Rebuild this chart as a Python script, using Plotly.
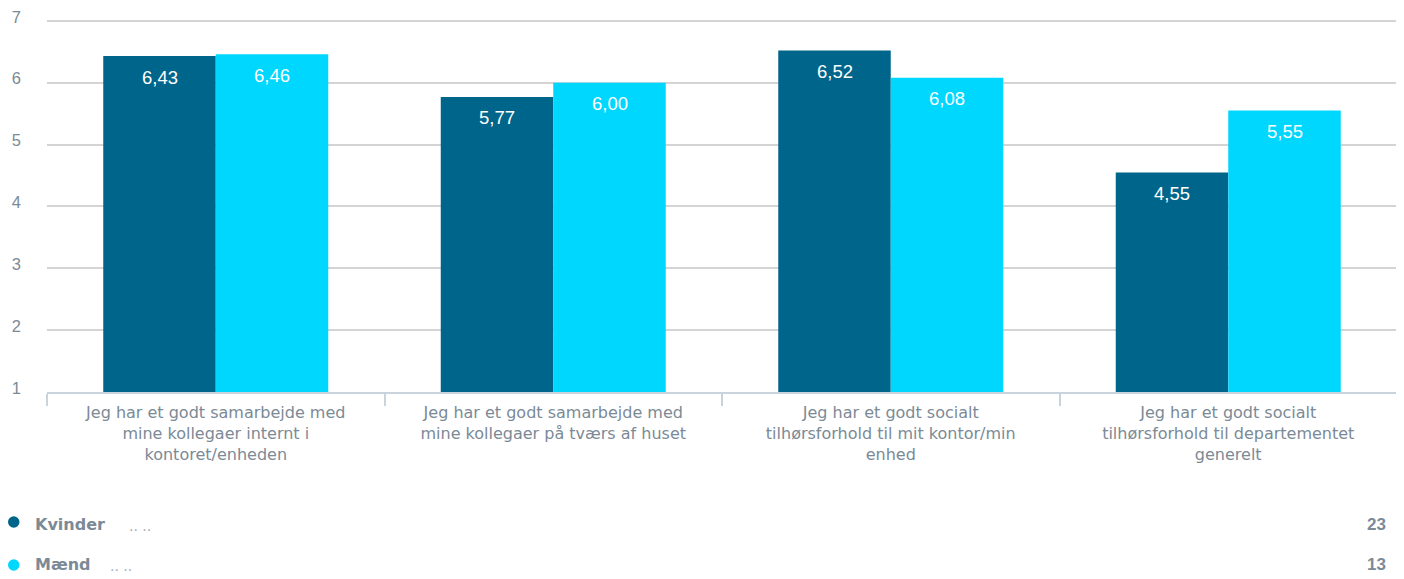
import plotly.graph_objects as go

categories = [
    "Jeg har et godt samarbejde med<br>mine kollegaer internt i<br>kontoret/enheden",
    "Jeg har et godt samarbejde med<br>mine kollegaer på tværs af huset",
    "Jeg har et godt socialt<br>tilhørsforhold til mit kontor/min<br>enhed",
    "Jeg har et godt socialt<br>tilhørsforhold til departementet<br>generelt",
]
kvinder = [6.43, 5.77, 6.52, 4.55]
maend = [6.46, 6.00, 6.08, 5.55]
series_names = ["Kvinder", "Mænd"]
series_counts = [23, 13]
y_ticks = [1, 2, 3, 4, 5, 6, 7]

DARK = "#00658a"
LIGHT = "#00d7ff"
GREY_TXT = "#7b8a96"
FONT = "DejaVu Sans, Arial"
FONT2 = "Liberation Sans, Arial"

# The page body has an 8px margin; figure is sized/offset to compensate.
PAGE_OFF = 8
W, H = 1404 - PAGE_OFF, 579 - PAGE_OFF
PLOT_TOP, PLOT_BOTTOM = 19, 392          # page pixel rows of plot area
ML, MR = 47 - PAGE_OFF, 7
MT = PLOT_TOP - PAGE_OFF
MB = H - (PLOT_BOTTOM - PAGE_OFF)
plot_w = W - ML - MR
plot_h = H - MT - MB

def px_x(x):
    return (x - PAGE_OFF - ML) / plot_w

def px_y(y):
    return (H - MB - (y - PAGE_OFF)) / plot_h

fig = go.Figure()
for name, vals, col in [(series_names[0], kvinder, DARK), (series_names[1], maend, LIGHT)]:
    fig.add_trace(go.Bar(
        name=name, x=categories, y=vals, marker=dict(color=col, line=dict(width=0)),
        hoverinfo="skip",
    ))

bargap = 1/3
bw = (1 - bargap) / 2
for si, vals in enumerate([kvinder, maend]):
    off = -bw/2 if si == 0 else bw/2
    for i, v in enumerate(vals):
        fig.add_annotation(
            x=i + off, y=v, xref="x", yref="y",
            text=f"{v:.2f}".replace(".", ","), showarrow=False,
            yanchor="middle", yshift=-21, font=dict(family=FONT2, size=18.5, color="white"),
        )

circle_y = [522, 565]
text_y = [524.5, 564.5]
dots_x = [127, 108]
for name, cnt, col, cy, ty, dx in zip(series_names, series_counts, [DARK, LIGHT], circle_y, text_y, dots_x):
    fig.add_shape(type="circle", xref="paper", yref="paper",
                  x0=px_x(8), x1=px_x(19.5), y0=px_y(cy + 5.75), y1=px_y(cy - 5.75),
                  line=dict(width=0), fillcolor=col)
    fig.add_annotation(xref="paper", yref="paper", x=px_x(33), y=px_y(ty),
                       xanchor="left", yanchor="middle", showarrow=False,
                       text=f"<b>{name}</b>", font=dict(family=FONT, size=16, color=GREY_TXT))
    fig.add_annotation(xref="paper", yref="paper", x=px_x(dx), y=px_y(ty + 1),
                       xanchor="left", yanchor="middle", showarrow=False,
                       text=".. ..", font=dict(family=FONT, size=14, color="#a3acb4"))
    fig.add_annotation(xref="paper", yref="paper", x=px_x(1388), y=px_y(ty),
                       xanchor="right", yanchor="middle", showarrow=False,
                       text=f"<b>{cnt}</b>", font=dict(family=FONT2, size=17, color=GREY_TXT))

fig.update_layout(
    width=W, height=H,
    margin=dict(l=ML, r=MR, t=MT, b=MB, autoexpand=False),
    paper_bgcolor="white", plot_bgcolor="white",
    barmode="group", bargap=bargap, bargroupgap=0,
    showlegend=False,
    font=dict(family=FONT, color=GREY_TXT, size=14),
    xaxis=dict(
        automargin=False,
        showline=True, linecolor="#c9d3dd", linewidth=2,
        ticks="outside", tickson="boundaries", ticklen=12, tickcolor="#c9d3dd", tickwidth=2,
        tickfont=dict(family=FONT, size=16, color=GREY_TXT), showgrid=False,
        ticklabelstandoff=5,
    ),
    yaxis=dict(
        automargin=False,
        range=[1, 7.03], tickvals=y_ticks, showgrid=True, gridcolor="#d4d4d4", gridwidth=2,
        zeroline=False, showline=False, ticks="", tickfont=dict(family=FONT2, size=16.5, color=GREY_TXT),
        ticklabelstandoff=25, ticklabelshift=-4, ticklabeloverflow="allow",
    ),
)

fig.write_html("out.html")
